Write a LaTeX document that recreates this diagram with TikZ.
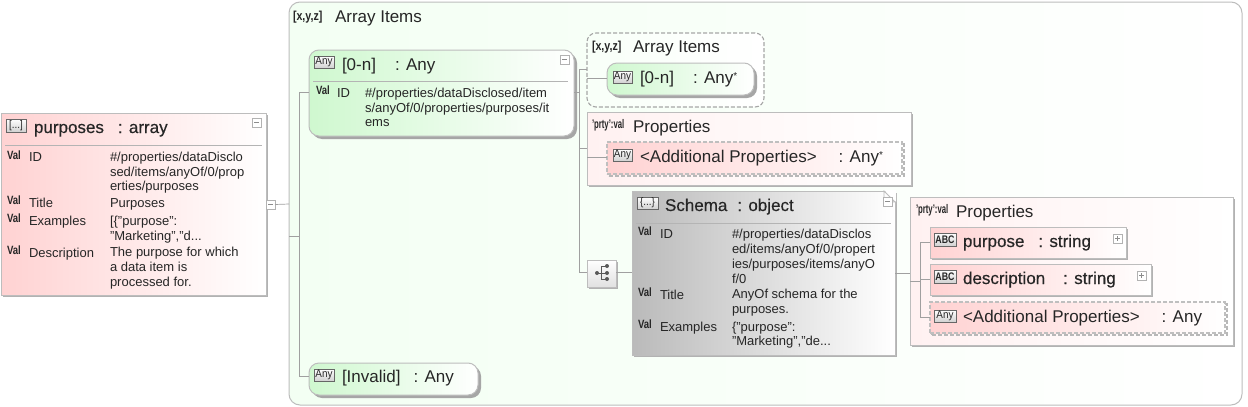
\documentclass[tikz,border=0pt]{standalone}
\usepackage{fontspec}
\setmainfont{Liberation Sans}
\newfontfamily\semib[FakeBold=0.35]{Liberation Sans}
\usetikzlibrary{shadows,calc}
\definecolor{ink}{HTML}{262626}
\definecolor{edge}{HTML}{BDBDBD}
\definecolor{wire}{HTML}{A0A0A0}
\definecolor{rulec}{HTML}{B4B4B4}
\definecolor{pinkA}{HTML}{FFD2D2}
\definecolor{pinkB}{HTML}{FFF1F1}
\definecolor{greenA}{HTML}{CFF8CF}
\definecolor{greenM}{HTML}{EFFDEF}
\definecolor{greenB}{HTML}{F3FFF3}
\definecolor{greenC}{HTML}{F8FFF8}
\definecolor{grayA}{HTML}{BABABA}
\tikzset{
  x=1pt,y=-1pt,
  boxbase/.style={anchor=north west,inner sep=0pt,outer sep=0pt,draw=edge,line width=1pt},
  hardshadow/.style={general shadow={shadow xshift=2pt,shadow yshift=-2pt,fill=black!30}},
  softshadow/.style={general shadow={shadow xshift=3pt,shadow yshift=-3pt,fill=black!35}},
  pinkbox/.style={boxbase,left color=pinkA,right color=white,hardshadow},
  pinkgroup/.style={boxbase,left color=pinkB,right color=white,hardshadow},
  pinkdash/.style={boxbase,draw=black!25,line width=1.1pt,dash pattern=on 4pt off 2pt,left color=pinkA,right color=white},
  dashshade/.style={boxbase,draw=black!28,line width=2.5pt,dash pattern=on 4pt off 2pt},
  greenround/.style={boxbase,rounded corners=10pt,left color=greenA,middle color=greenM,right color=white,softshadow},
  greygrad/.style={boxbase,left color=grayA,right color=white,hardshadow},
  outer/.style={boxbase,rounded corners=11pt,left color=greenB,right color=white},
  dashgroup/.style={boxbase,rounded corners=9pt,draw=black!35,line width=1.1pt,dash pattern=on 4pt off 2pt,left color=greenC,right color=white},
  wirel/.style={draw=wire,line width=0.7pt},
  seprule/.style={draw=rulec,line width=1pt},
  lab/.style={anchor=base west,inner sep=0pt,outer sep=0pt,text=ink},
  body/.style={lab,font=\fontsize{13}{15}\selectfont},
  head/.style={lab,font=\fontsize{17}{19}\selectfont},
  bhead/.style={lab,font=\fontsize{17}{19}\selectfont\semib},
  valtag/.style={lab,font=\fontsize{12}{12}\selectfont\bfseries},
  xyz/.style={lab,font=\fontsize{13}{13}\selectfont\bfseries},
  prty/.style={lab,font=\fontsize{12.5}{13}\selectfont\bfseries},
  icon/.style={anchor=north west,inner sep=0pt,outer sep=0pt,draw=black!60,line width=0.8pt,top color=white,bottom color=black!18,text=ink,align=center,font=\fontsize{11}{11}\selectfont},
  btn/.style={anchor=north west,inner sep=0pt,outer sep=0pt,draw=black!30,line width=0.6pt,fill=white,minimum width=9pt,minimum height=9pt},
  choice/.style={boxbase,top color=white,bottom color=black!12,hardshadow},
}
\newcount\tc
\newcommand{\BX}[6]{\node[#6,minimum width={(#4-#2)*1pt},minimum height={(#5-#3)*1pt}] (#1) at (#2,#3) {};}
\newcommand{\TX}[4]{\global\advance\tc by 1 \node[#3] (txt\the\tc) at (#1,#2) {#4};}
\newcommand{\VL}[2]{\TX{#1}{#2}{valtag}{\scalebox{.8}[1]{Val}}}
\newcommand{\IC}[6]{\node[icon,minimum width={(#4-#2)*1pt},minimum height={(#5-#3)*1pt}] (#1) at (#2,#3) {\raisebox{-1pt}{#6}};}
\newcommand{\MB}[3]{\node[btn] (#1) at (#2,#3) {}; \draw[draw=black!45,line width=0.6pt] ($(#1.west)+(2,0)$) -- ($(#1.east)+(-2,0)$);}
\newcommand{\PB}[3]{\MB{#1}{#2}{#3}\draw[draw=black!45,line width=0.6pt] ($(#1.north)+(0,2)$) -- ($(#1.south)+(0,-2)$);}
\newcommand{\STAR}{\raisebox{4pt}{\fontsize{10}{10}\selectfont *}}
\begin{document}
\begin{tikzpicture}
\useasboundingbox (0,0) rectangle (1248,407);
\fill[white] (0,0) rectangle (1248,407);
% outer group
\BX{outerbox}{289}{2}{1242}{405}{outer}
\TX{293}{20}{xyz}{\scalebox{.82}[1]{[x,y,z]}}
\TX{335}{22}{head}{Array Items}
% main node
\BX{mainbox}{1}{113}{266}{295}{pinkbox}
\IC{mainicon}{6}{119}{26}{132}{\scalebox{.9}[1]{[...]}}
\TX{34}{133}{bhead}{purposes\hspace{14pt}: array}
\coordinate (m1) at (5,145); \coordinate (m2) at (262,145);
\draw[seprule] (m1) -- (m2);
\MB{mainbtn}{252}{118}
\VL{7}{159}\TX{29}{161}{body}{ID}
\TX{110}{161}{body}{\#/properties/dataDisclo}
\TX{110}{176}{body}{sed/items/anyOf/0/prop}
\TX{110}{190}{body}{erties/purposes}
\VL{7}{204}\TX{29}{207}{body}{Title}
\TX{110}{207}{body}{Purposes}
\VL{7}{222}\TX{29}{225}{body}{Examples}
\TX{110}{225}{body}{[\{"purpose":}
\TX{110}{240}{body}{"Marketing","d...}
\VL{7}{254}\TX{29}{257}{body}{Description}
\TX{110}{256}{body}{The purpose for which}
\TX{110}{271}{body}{a data item is}
\TX{110}{286}{body}{processed for.}
% collapse button and trunk
\MB{mainout}{266}{200}
\coordinate (j0) at (289,204);
\coordinate (j1) at (299,236);
\coordinate (j1a) at (289,236);
\coordinate (j2) at (299,92);
\coordinate (j3) at (299,376);
% [0-n] node
\BX{anyA}{309}{50}{574}{136}{greenround}
\IC{anyAicon}{314}{56}{334}{68}{\scalebox{.9}[1]{Any}}
\TX{342}{70}{head}{[0-n]\hspace{19pt}: Any}
\coordinate (a1) at (313,81); \coordinate (a2) at (568,81);
\draw[seprule] (a1) -- (a2);
\MB{anyAbtn}{560}{55}
\VL{316}{94}\TX{337}{97}{body}{ID}
\TX{365}{97}{body}{\#/properties/dataDisclosed/item}
\TX{365}{112}{body}{s/anyOf/0/properties/purposes/it}
\TX{365}{126}{body}{ems}
% invalid node
\BX{invalid}{309}{363}{478}{395}{greenround}
\IC{invalidicon}{314}{369}{334}{381}{\scalebox{.9}[1]{Any}}
\TX{342}{382}{head}{[Invalid]\hspace{13pt}: Any}
% trunk lines
\draw[wirel] (mainout.east) -- (j0);
\draw[wirel] (j1a) -- (j1);
\draw[wirel] (j2) -- (j3);
\draw[wirel] (j2) -- (anyA.west |- j2);
\draw[wirel] (j3) -- (invalid.west |- j3);
% array items inner group
\BX{dashA}{587}{33}{764}{107}{dashgroup}
\TX{592}{50}{xyz}{\scalebox{.82}[1]{[x,y,z]}}
\TX{633}{52}{head}{Array Items}
\BX{anyB}{607}{63}{754}{95}{greenround}
\IC{anyBicon}{613}{71}{632}{83}{\scalebox{.9}[1]{Any}}
\TX{640}{83}{head}{[0-n]\hspace{19pt}: Any\STAR}
% properties group
\BX{propA}{587}{112}{911}{185}{pinkgroup}
\TX{592}{128}{prty}{\scalebox{.62}[1]{'prty':val}}
\TX{633}{132}{head}{Properties}
\BX{addAshade}{609}{144}{904}{176}{dashshade}
\BX{addA}{607}{142}{902}{174}{pinkdash}
\IC{addAicon}{613}{149}{632}{161}{\scalebox{.9}[1]{Any}}
\TX{640}{162}{head}{<Additional Properties>\hspace{22pt}: Any\STAR}
% choice
\BX{choiceB}{587}{260}{616}{287}{choice}
\fill[black!65] (597,273) circle (2);
\draw[black!65,line width=0.7pt] (597,273) -- (601,273);
\draw[black!65,line width=0.7pt] (601,266) -- (601,279);
\draw[black!65,line width=0.7pt] (601,266) -- (607,266);
\draw[black!65,line width=0.7pt] (601,273) -- (607,273);
\draw[black!65,line width=0.7pt] (601,279) -- (607,279);
\fill[black!65] (607,266) circle (2) (607,273) circle (2) (607,279) circle (2);
% schema
\BX{schema}{632}{191}{895}{355}{greygrad}
\fill[white] (884,190) -- (896,190) -- (896,202) -- cycle;
\draw[draw=edge,line width=0.8pt] (884,191) -- (895,202) -- (884,202) -- cycle;
\IC{schemaicon}{637}{197}{658}{209}{\scalebox{.9}[1]{\{...\}}}
\TX{665}{211}{bhead}{Schema\hspace{10pt}: object}
\coordinate (s1) at (636,223); \coordinate (s2) at (891,223);
\draw[seprule] (s1) -- (s2);
\MB{schemabtn}{883}{197}
\VL{638}{235}\TX{660}{238}{body}{ID}
\TX{732}{238}{body}{\#/properties/dataDisclos}
\TX{732}{253}{body}{ed/items/anyOf/0/propert}
\TX{732}{268}{body}{ies/purposes/items/anyO}
\TX{732}{283}{body}{f/0}
\VL{638}{296}\TX{660}{299}{body}{Title}
\TX{732}{298}{body}{AnyOf schema for the}
\TX{732}{313}{body}{purposes.}
\VL{638}{328}\TX{660}{331}{body}{Examples}
\TX{732}{331}{body}{\{"purpose":}
\TX{732}{345}{body}{"Marketing","de...}
% properties 2
\BX{propB}{910}{197}{1233}{345}{pinkgroup}
\TX{916}{213}{prty}{\scalebox{.62}[1]{'prty':val}}
\TX{956}{217}{head}{Properties}
\BX{purpose}{930}{227}{1126}{258}{pinkbox}
\IC{purposeicon}{934}{233}{956}{246}{\scalebox{.8}[1]{\textbf{ABC}}}
\TX{963}{247}{bhead}{purpose\hspace{14pt}: string}
\PB{purposebtn}{1113}{234}
\BX{descr}{930}{264}{1151}{295}{pinkbox}
\IC{descricon}{934}{270}{956}{283}{\scalebox{.8}[1]{\textbf{ABC}}}
\TX{963}{284}{bhead}{description\hspace{18pt}: string}
\PB{descrbtn}{1137}{271}
\BX{addBshade}{932}{304}{1227}{335}{dashshade}
\BX{addB}{930}{302}{1225}{333}{pinkdash}
\IC{addBicon}{934}{310}{956}{322}{\scalebox{.9}[1]{Any}}
\TX{963}{322}{head}{<Additional Properties>\hspace{22pt}: Any}
% connectors
\coordinate (c1) at (579,92);
\coordinate (c2) at (579,69);
\coordinate (c3) at (579,148);
\coordinate (c4) at (579,272);
\draw[wirel] (anyA.east |- c1) -- (c1);
\draw[wirel] (c2) -- (c4);
\draw[wirel] (c2) -- (dashA.west |- c2);
\draw[wirel] (c3) -- (propA.west |- c3);
\draw[wirel] (c4) -- (choiceB.west |- c4);
\coordinate (c5) at (587,78);
\draw[wirel] (c5) -- (anyB.west |- c5);
\coordinate (c6) at (587,157);
\draw[wirel] (c6) -- (addA.west |- c6);
\draw[wirel] (choiceB.east |- c4) -- (schema.west |- c4);
\coordinate (d0) at (895,273);
\draw[wirel] (d0) -- (propB.west |- d0);
\coordinate (d1) at (910,281);
\coordinate (d2) at (920,281);
\coordinate (d3) at (920,242);
\coordinate (d4) at (920,317);
\coordinate (d5) at (920,279);
\draw[wirel] (d1) -- (d2);
\draw[wirel] (d3) -- (d4);
\draw[wirel] (d3) -- (purpose.west |- d3);
\draw[wirel] (d5) -- (descr.west |- d5);
\draw[wirel] (d4) -- (addB.west |- d4);
\end{tikzpicture}
\end{document}
